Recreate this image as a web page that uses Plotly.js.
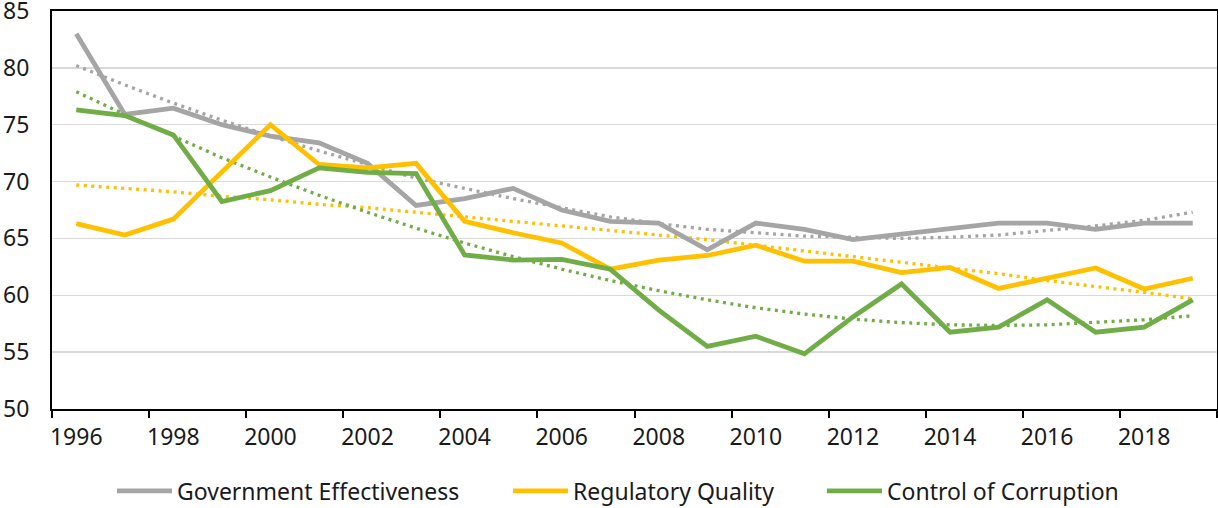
<!DOCTYPE html>
<html>
<head>
<meta charset="utf-8">
<script src="https://cdn.plot.ly/plotly-3.0.1.min.js"></script>
<style>html,body{margin:0;padding:0;background:#fff;}#chart{width:1218px;height:508px;}</style>
</head>
<body>
<div id="chart"></div>
<script>
const years = [1996,1997,1998,1999,2000,2001,2002,2003,2004,2005,2006,2007,2008,2009,2010,2011,2012,2013,2014,2015,2016,2017,2018,2019];
const tickYears = [1996,1998,2000,2002,2004,2006,2008,2010,2012,2014,2016,2018];
const yTicks = [50,55,60,65,70,75,80,85];

const govEffectiveness = [83.0,75.9,76.45,75.0,74.0,73.4,71.6,67.9,68.5,69.4,67.5,66.5,66.35,64.0,66.35,65.8,64.9,65.4,65.9,66.35,66.35,65.8,66.35,66.35];
const regQuality = [66.3,65.3,66.7,70.9,75.0,71.5,71.2,71.6,66.5,65.5,64.6,62.3,63.1,63.5,64.4,63.0,63.0,62.0,62.45,60.6,61.5,62.4,60.55,61.5];
const controlCorruption = [76.3,75.8,74.1,68.25,69.2,71.2,70.8,70.7,63.55,63.1,63.15,62.3,58.7,55.5,56.4,54.85,58.1,61.0,56.75,57.2,59.6,56.75,57.2,59.6];

const govTrend = [80.2,78.5,76.9,75.4,74.0,72.7,71.5,70.3,69.4,68.5,67.7,66.9,66.3,65.8,65.5,65.2,65.1,65.0,65.1,65.3,65.7,66.1,66.6,67.3];
const regTrend = [69.7,69.4,69.1,68.7,68.4,68.0,67.7,67.3,66.9,66.5,66.1,65.7,65.3,64.9,64.4,63.9,63.4,62.95,62.45,61.9,61.3,60.8,60.25,59.7];
const corrTrend = [77.9,75.9,74.0,72.1,70.4,68.8,67.3,65.9,64.6,63.4,62.3,61.3,60.4,59.6,58.9,58.35,57.9,57.6,57.4,57.35,57.4,57.6,57.85,58.2];

const names = ['Government Effectiveness','Regulatory Quality','Control of Corruption'];
const colors = ['#A5A5A5','#FFC000','#70AD47'];
const series = [govEffectiveness, regQuality, controlCorruption];
const trends = [govTrend, regTrend, corrTrend];
const legendIds = ['legend','legend2','legend3'];
const legendLeft = [112, 508, 822];

const traces = [];
trends.forEach((t,i)=>{
  traces.push({x: years, y: t, mode:'lines', showlegend:false, hoverinfo:'skip',
    line:{color: colors[i], width:3.3, dash:'3px,4.5px'}});
});
series.forEach((s,i)=>{
  traces.push({x: years, y: s, mode:'lines', name: names[i], legend: legendIds[i],
    line:{color: colors[i], width:4.8}});
});

const fontFam = '"Noto Sans", "Open Sans", sans-serif';
const layout = {
  width:1218, height:508,
  margin:{l:52, r:1, t:11, b:99, autoexpand:false},
  paper_bgcolor:'#fff', plot_bgcolor:'#fff',
  font:{family: fontFam, size:23, color:'#1a1a1a'},
  xaxis:{
    range:[years[0]-0.5, years[years.length-1]+0.5],
    tickmode:'array', tickvals: tickYears, ticktext: tickYears.map(String),
    ticks:'', showgrid:false, zeroline:false,
    showline:true, linecolor:'#000', linewidth:2, mirror:true,
    tickfont:{size:23, color:'#1a1a1a'},
    ticklabelstandoff: 6, ticklabeloverflow:'allow',
    minor:{tickmode:'array', tickvals: tickYears.map(y=>y-0.5).concat([years[years.length-1]+0.5]),
      ticks:'outside', ticklen:7, tickwidth:2, tickcolor:'#000', showgrid:false}
  },
  yaxis:{
    range:[50,85], tickmode:'array', tickvals: yTicks, ticktext: yTicks.map(String),
    showgrid:true, gridcolor:'#d9d9d9', gridwidth:1.5, zeroline:false,
    showline:true, linecolor:'#000', linewidth:2, mirror:true,
    ticks:'', tickfont:{size:23, color:'#1a1a1a'}, ticklabelstandoff: 16, ticklabeloverflow:'allow'
  },
  showlegend:true
};
legendIds.forEach((id,i)=>{
  layout[id] = {orientation:'h', xref:'container', x: legendLeft[i]/1218, xanchor:'left',
    yref:'paper', y:-82/398, yanchor:'middle',
    font:{size:23, color:'#1a1a1a'}, itemwidth:55, bgcolor:'rgba(0,0,0,0)'};
});
Plotly.newPlot('chart', traces, layout, {displayModeBar:false, staticPlot:true});
</script>
</body>
</html>
